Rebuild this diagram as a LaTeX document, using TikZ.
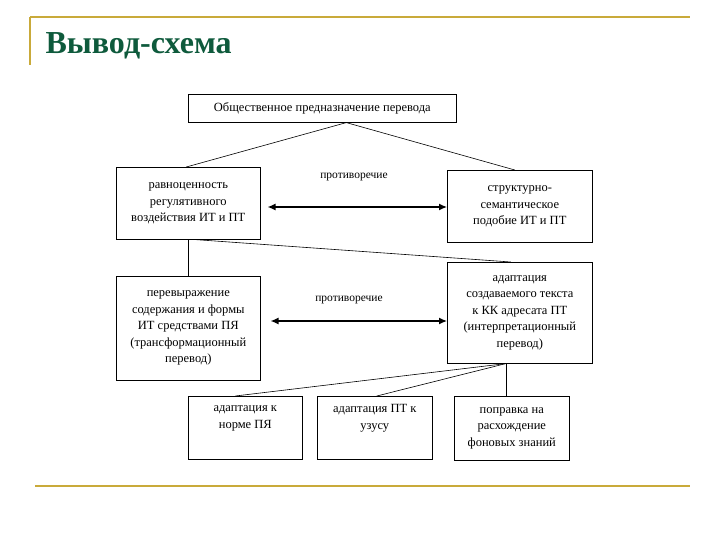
\documentclass[tikz,border=0pt]{standalone}
\usepackage{fontspec}
\setmainfont{Liberation Serif}
\usetikzlibrary{arrows.meta}
\definecolor{gold}{HTML}{C9AA3A}
\definecolor{ttl}{HTML}{0E5A3C}
\begin{document}
\begin{tikzpicture}[x=1pt,y=-1pt,
 bx/.style={draw,line width=0.6pt,inner sep=0pt,anchor=north west,align=center,font=\fontsize{12.5}{16.5}\selectfont},
 ln/.style={line width=0.6pt},
 lab/.style={font=\fontsize{11.5}{13}\selectfont},
 dbl/.style={line width=1.3pt,{Latex[length=8pt,width=7pt]}-{Latex[length=8pt,width=7pt]}}]
\useasboundingbox (0,0) rectangle (720,540);
\draw[gold,line width=1.2pt] (30,17) -- (690,17);
\draw[gold,line width=1.2pt] (30,17) -- (30,65);
\draw[gold,line width=1.2pt] (35,486) -- (690,486);
\node[anchor=west,text=ttl,font=\fontsize{32}{36}\selectfont\bfseries] (title) at (42,46) {Вывод-схема};
\node[bx,minimum width=268pt,minimum height=28pt] (top) at (188,94) {Общественное предназначение перевода};
\node[bx,minimum width=144pt,minimum height=72pt] (l1) at (116,167) {равноценность\\регулятивного\\воздействия ИТ и ПТ};
\node[bx,minimum width=145pt,minimum height=72pt] (r1) at (447,170) {структурно-\\семантическое\\подобие ИТ и ПТ};
\node[bx,minimum width=144pt,minimum height=104pt] (l2) at (116,276) {перевыражение\\содержания и формы\\ИТ средствами ПЯ\\(трансформационный\\перевод)};
\node[bx,minimum width=145pt,minimum height=101pt] (r2) at (447,262) {адаптация\\создаваемого текста\\к КК адресата ПТ\\(интерпретационный\\перевод)};
\node[bx,minimum width=114pt,minimum height=63pt] (b1) at (188,396) {адаптация к\\норме ПЯ\\\strut};
\node[bx,minimum width=115pt,minimum height=63pt] (b2) at (317,396) {адаптация ПТ к\\узусу\\\strut};
\node[bx,minimum width=115pt,minimum height=64pt] (b3) at (454,396) {поправка на\\расхождение\\фоновых знаний};
\node[lab] (c1) at (354,177) {противоречие};
\node[lab] (c2) at (349,300) {противоречие};
\coordinate (tb) at ([xshift=24pt]top.south);
\draw[ln] (tb) -- ([xshift=-2pt]l1.north);
\draw[ln] (tb) -- ([xshift=-5pt]r1.north);
\draw[ln] ([xshift=7pt]l1.south) -- ([xshift=-9pt]r2.north);
\draw[ln] (l1.south) -- (l2.north);
\coordinate (rb) at ([xshift=-14pt]r2.south);
\draw[ln] (rb) -- ([xshift=-10pt]b1.north);
\draw[ln] (rb) -- ([xshift=2pt]b2.north);
\draw[ln] (rb) -- (rb |- b3.north);
\draw[dbl] ([xshift=7pt]l1.east |- 0,207) -- (r1.west |- 0,207);
\draw[dbl] ([xshift=10pt]l2.east |- 0,321) -- (r2.west |- 0,321);
\end{tikzpicture}
\end{document}
